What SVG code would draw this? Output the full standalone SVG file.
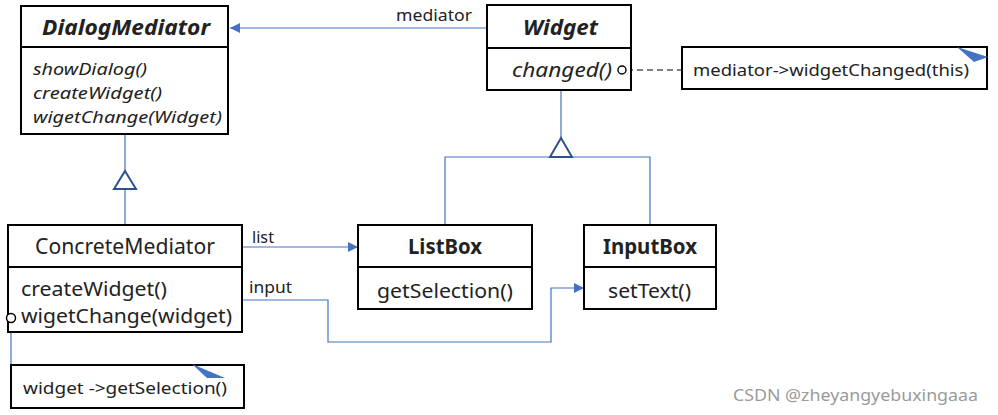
<svg xmlns="http://www.w3.org/2000/svg" width="998" height="415" viewBox="0 0 998 415">
<defs>
<style>
.box{fill:#fff;stroke:#000;stroke-width:2}
.div{stroke:#000;stroke-width:2}
.con{fill:none;stroke:#4472C4;stroke-width:1.2}
.gen{fill:#fff;stroke:#2F528F;stroke-width:2}
.t{font-family:"Noto Sans","Liberation Sans",sans-serif;fill:#222}
.note{fill:#4472C4;stroke:none}
</style>
<marker id="arr" viewBox="0 0 10 10" refX="10" refY="5" markerWidth="10" markerHeight="10" markerUnits="userSpaceOnUse" orient="auto">
<path d="M0,0 L10,5 L0,10 z" fill="#4472C4"/>
</marker>
</defs>
<rect width="998" height="415" fill="#fff"/>

<g id="connectors">
<line class="con" x1="487" y1="28" x2="230" y2="28" marker-end="url(#arr)"/>
<text class="t" x="396" y="21" font-size="17" textLength="76" lengthAdjust="spacingAndGlyphs">mediator</text>
<line x1="627" y1="70" x2="681" y2="70" stroke="#555" stroke-width="1.5" stroke-dasharray="6,4"/>
<line class="con" x1="125" y1="135" x2="125" y2="189"/>
<line class="con" x1="125" y1="189" x2="125" y2="225"/>
<polygon class="gen" points="125,171 136,189 114,189"/>
<line class="con" x1="561" y1="90" x2="561" y2="138"/>
<polyline class="con" points="445,225 445,157 650,157 650,225"/>
<polygon class="gen" points="561,138 572,157 550,157"/>
<line class="con" x1="242" y1="247" x2="358" y2="247" marker-end="url(#arr)"/>
<text class="t" x="252" y="243" font-size="17" textLength="22" lengthAdjust="spacingAndGlyphs">list</text>
<polyline class="con" points="242,300 328,300 328,342 551,342 551,288 584,288" marker-end="url(#arr)"/>
<text class="t" x="249" y="293" font-size="17" textLength="43" lengthAdjust="spacingAndGlyphs">input</text>
<line class="con" x1="11" y1="322" x2="11" y2="387"/>
</g>

<g id="DialogMediator">
<rect class="box" x="21" y="6" width="207" height="128"/>
<line class="div" x1="21" y1="47" x2="228" y2="47"/>
<text class="t" x="42" y="35" font-size="21" font-weight="bold" font-style="italic" fill="#000" textLength="168" lengthAdjust="spacingAndGlyphs">DialogMediator</text>
<text class="t" x="33" y="75" font-size="17" font-style="italic" textLength="114" lengthAdjust="spacingAndGlyphs">showDialog()</text>
<text class="t" x="33" y="99" font-size="17" font-style="italic" textLength="129" lengthAdjust="spacingAndGlyphs">createWidget()</text>
<text class="t" x="33" y="123" font-size="17" font-style="italic" textLength="189" lengthAdjust="spacingAndGlyphs">wigetChange(Widget)</text>
</g>

<g id="Widget">
<rect class="box" x="487" y="5" width="144" height="85"/>
<line class="div" x1="487" y1="48" x2="631" y2="48"/>
<text class="t" x="523" y="35" font-size="21" font-weight="bold" font-style="italic" fill="#000" textLength="75" lengthAdjust="spacingAndGlyphs">Widget</text>
<text class="t" x="512" y="77" font-size="20" font-style="italic" textLength="100" lengthAdjust="spacingAndGlyphs">changed()</text>
<circle cx="622" cy="70" r="4" fill="#fff" stroke="#000" stroke-width="1.4"/>
</g>

<g id="WidgetNote">
<rect class="box" x="682" y="47" width="305" height="42"/>
<text class="t" x="693" y="76" font-size="17" textLength="276" lengthAdjust="spacingAndGlyphs">mediator-&gt;widgetChanged(this)</text>
<polygon class="note" points="957,47 988,57 974,62"/>
</g>

<g id="ConcreteMediator">
<rect class="box" x="8" y="225" width="234" height="107"/>
<line class="div" x1="8" y1="267" x2="242" y2="267"/>
<text class="t" x="35" y="254" font-size="21" textLength="180" lengthAdjust="spacingAndGlyphs">ConcreteMediator</text>
<text class="t" x="21" y="296" font-size="20" textLength="146" lengthAdjust="spacingAndGlyphs">createWidget()</text>
<text class="t" x="21" y="323" font-size="20" textLength="211" lengthAdjust="spacingAndGlyphs">wigetChange(widget)</text>
<circle cx="11" cy="318" r="4.5" fill="#fff" stroke="#000" stroke-width="1.5"/>
</g>

<g id="MediatorNote">
<rect class="box" x="11" y="365" width="233" height="43"/>
<text class="t" x="23" y="394" font-size="17" textLength="204" lengthAdjust="spacingAndGlyphs">widget -&gt;getSelection()</text>
<polygon class="note" points="192,364 225,378 207,378"/>
</g>

<g id="ListBox">
<rect class="box" x="358" y="225" width="174" height="84"/>
<line class="div" x1="358" y1="267" x2="532" y2="267"/>
<text class="t" x="408" y="254" font-size="21" font-weight="bold" fill="#000" textLength="74" lengthAdjust="spacingAndGlyphs">ListBox</text>
<text class="t" x="377" y="298" font-size="20" textLength="136" lengthAdjust="spacingAndGlyphs">getSelection()</text>
</g>

<g id="InputBox">
<rect class="box" x="584" y="225" width="132" height="84"/>
<line class="div" x1="584" y1="267" x2="716" y2="267"/>
<text class="t" x="603" y="254" font-size="21" font-weight="bold" fill="#000" textLength="94" lengthAdjust="spacingAndGlyphs">InputBox</text>
<text class="t" x="608" y="298" font-size="20" textLength="83" lengthAdjust="spacingAndGlyphs">setText()</text>
</g>

<text x="733" y="401" font-family="Noto Sans,Liberation Sans,sans-serif" font-size="17" fill="#9a9a9a" textLength="245" lengthAdjust="spacingAndGlyphs">CSDN @zheyangyebuxingaaa</text>
</svg>
